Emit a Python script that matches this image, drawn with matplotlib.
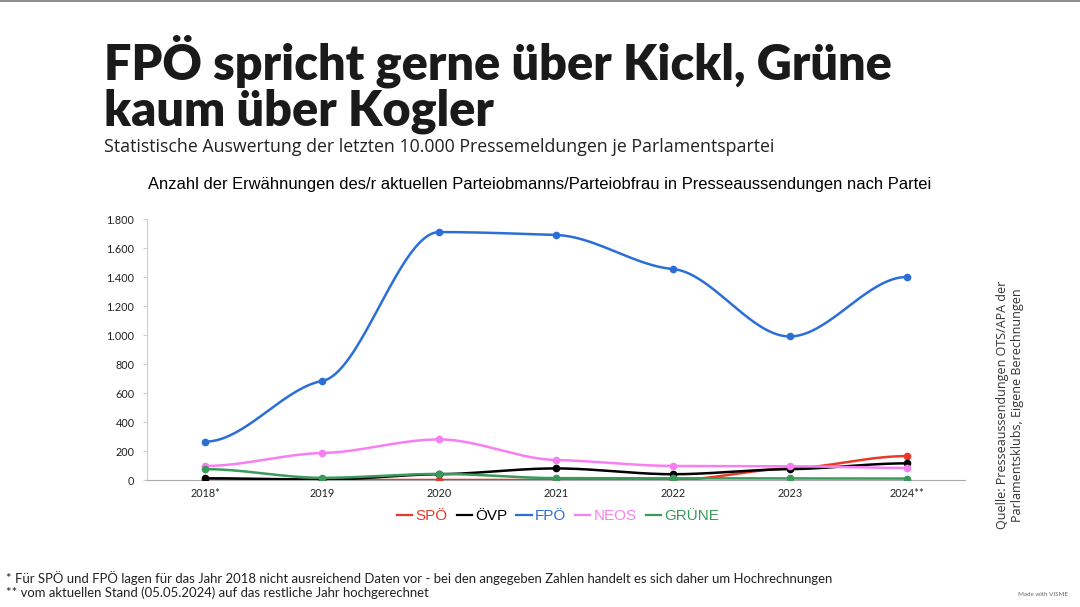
import numpy as np
import matplotlib
matplotlib.use('Agg')
import matplotlib.pyplot as plt
from matplotlib.lines import Line2D

years = ['2018*', '2019', '2020', '2021', '2022', '2023', '2024**']
spoe = [0, 0, 0, 0, 0, 80, 165]
oevp = [12, 3, 40, 80, 40, 75, 115]
fpoe = [265, 683, 1710, 1690, 1455, 990, 1400]
neos = [97, 186, 280, 138, 97, 95, 83]
gruene = [75, 15, 42, 13, 12, 12, 10]

parties = ['SPÖ', 'ÖVP', 'FPÖ', 'NEOS', 'GRÜNE']
colors = ['#e8392b', '#000000', '#2b6fd6', '#f77ff2', '#3a9a5a']
series = [spoe, oevp, fpoe, neos, gruene]


def smooth(x, y, k=0.2, n=40):
    # Hermite curve with damped Catmull-Rom tangents (flat-ish at each point)
    x = np.asarray(x, float)
    y = np.asarray(y, float)
    h = np.diff(x)
    m = np.zeros_like(y)
    for i in range(1, len(y) - 1):
        d1 = (y[i] - y[i - 1]) / h[i - 1]
        d2 = (y[i + 1] - y[i]) / h[i]
        if d1 * d2 > 0:
            m[i] = k * (y[i + 1] - y[i - 1]) / (x[i + 1] - x[i - 1])
    xs, ys = [], []
    for i in range(len(h)):
        t = np.linspace(0, 1, n)
        h00 = 2 * t**3 - 3 * t**2 + 1
        h10 = t**3 - 2 * t**2 + t
        h01 = -2 * t**3 + 3 * t**2
        h11 = t**3 - t**2
        xs.append(x[i] + t * h[i])
        ys.append(h00 * y[i] + h10 * h[i] * m[i] + h01 * y[i + 1] + h11 * h[i] * m[i + 1])
    return np.concatenate(xs), np.concatenate(ys)


fig = plt.figure(figsize=(10.8, 6.07), dpi=100)
fig.patch.set_facecolor('white')

ax = fig.add_axes([0.1361, 0.2092, 0.7574, 0.430])
xpos = np.arange(len(years))
for vals, c in zip(series, colors):
    sx, sy = smooth(xpos, vals)
    ax.plot(sx, sy, color=c, lw=1.8, solid_capstyle='round', zorder=3)
    ax.plot(xpos, vals, 'o', color=c, ms=4.5, zorder=4)

ax.set_xlim(-0.5, 6.5)
ax.set_ylim(0, 1800)
ax.set_xticks(xpos)
ax.set_xticklabels(years)
yt = np.arange(0, 1801, 200)
ax.set_yticks(yt)
ax.set_yticklabels([f'{v:,}'.replace(',', '.') for v in yt])
for s in ['top', 'right']:
    ax.spines[s].set_visible(False)
ax.spines['left'].set_color('#cccccc')
ax.spines['bottom'].set_color('#aaaaaa')
ax.tick_params(axis='both', length=0, labelsize=7.8, colors='#222222', pad=6)
for lab in ax.get_xticklabels() + ax.get_yticklabels():
    lab.set_family('Lato')
ax.tick_params(axis='y', length=3, color='#cccccc')

handles = [Line2D([0], [0], color=c, lw=1.6) for c in colors]
leg = fig.legend(handles, parties, loc='center', bbox_to_anchor=(558 / 1080, 1 - 516 / 607),
                 ncol=5, frameon=False, handlelength=1.0, handletextpad=0.2, columnspacing=0.6,
                 prop={'family': 'Liberation Sans', 'size': 11})
for t, c in zip(leg.get_texts(), colors):
    t.set_color(c)

fig.text(104 / 1080, 1 - 84 / 607, 'FPÖ spricht gerne über Kickl, Grüne\nkaum über Kogler',
         ha='left', va='center', fontsize=35, fontweight='heavy', family='Lato',
         color='#1a1a1a', linespacing=1.0)
fig.text(104 / 1080, 1 - 147 / 607, 'Statistische Auswertung der letzten 10.000 Pressemeldungen je Parlamentspartei',
         ha='left', va='center', fontsize=12.8, family='Open Sans', color='#222222')
fig.text(540 / 1080, 1 - 185 / 607,
         'Anzahl der Erwähnungen des/r aktuellen Parteiobmanns/Parteiobfrau in Presseaussendungen nach Partei',
         ha='center', va='center', fontsize=11.9, family='Liberation Sans', color='#000000')
fig.text(1010 / 1080, 1 - 405 / 607,
         'Quelle: Presseaussendungen OTS/APA der\nParlamentsklubs, Eigene Berechnungen',
         ha='center', va='center', rotation=90, fontsize=9, family='Open Sans', color='#333333')
fig.text(6 / 1080, 1 - 578 / 607,
         '* Für SPÖ und FPÖ lagen für das Jahr 2018 nicht ausreichend Daten vor - bei den angegeben Zahlen handelt es sich daher um Hochrechnungen',
         ha='left', va='center', fontsize=9.45, family='Lato', color='#222222')
fig.text(6 / 1080, 1 - 593 / 607,
         '** vom aktuellen Stand (05.05.2024) auf das restliche Jahr hochgerechnet',
         ha='left', va='center', fontsize=9.45, family='Lato', color='#222222')
fig.text(1068 / 1080, 1 - 595 / 607, 'Made with VISME', ha='right', va='center',
         fontsize=4.5, family='Lato', color='#666666')

fig.add_artist(Line2D([0, 1], [0.999, 0.999], color='#777777', lw=1.2, transform=fig.transFigure))

fig.savefig('out.png', dpi=100, facecolor='white')
